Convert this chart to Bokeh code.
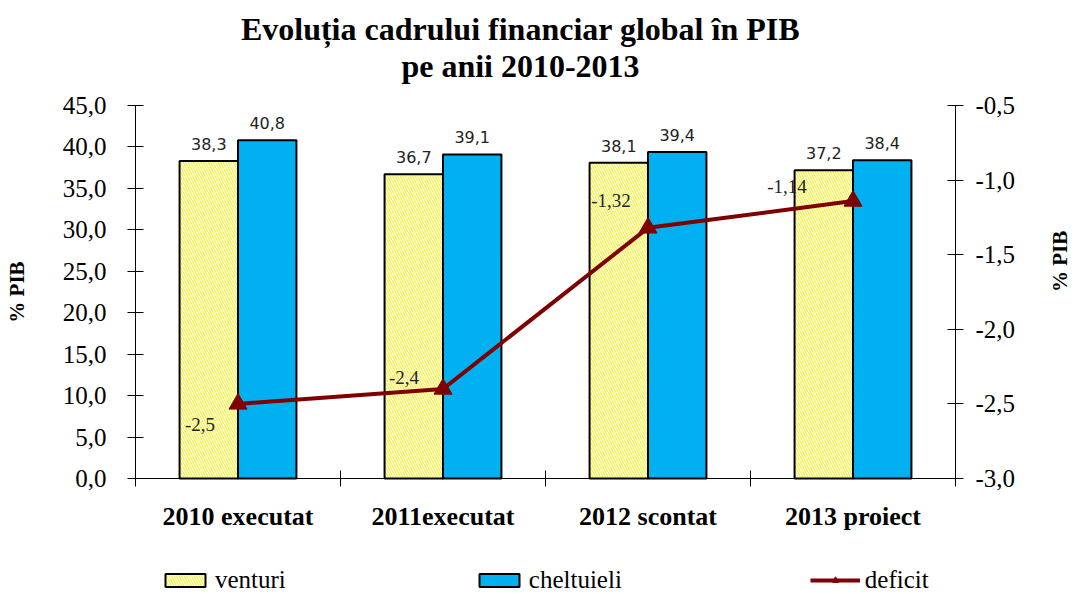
import math
from bokeh.plotting import figure
from bokeh.models import (Range1d, LinearAxis, FixedTicker, CustomJSTickFormatter,
                          Label, Legend, LegendItem, ColumnDataSource)
from bokeh.core.properties import value
from bokeh.embed import file_html
from bokeh.resources import INLINE

# ---------------- data ----------------
categories = ["2010 executat", "2011executat", "2012 scontat", "2013 proiect"]
venituri = [38.3, 36.7, 38.1, 37.2]
cheltuieli = [40.8, 39.1, 39.4, 38.4]
deficit = [-2.5, -2.4, -1.32, -1.14]
left_ticks = [0, 5, 10, 15, 20, 25, 30, 35, 40, 45]
right_ticks = [-3.0, -2.5, -2.0, -1.5, -1.0, -0.5]
title_lines = ["Evoluția cadrului financiar global în PIB", "pe anii 2010-2013"]

# ---------------- style / layout (pixels) ----------------
SERIF = "Liberation Serif"
SANS = "DejaVu Sans"
BLUE = "#00B0F0"
DARKRED = "#7F0000"
bar_w = 0.285
def_label_dx = [-38, -39, -37, -66]
def_label_dy = [21, -11, -27, -14]
W, H = 1075, 594
AX_LEFT, AX_RIGHT = 135, 955     # value axes
AX_TOP, AX_BOTTOM = 105, 478     # top / bottom of value axes
TITLE_X = 520
TITLE_BASE = [28, 65]

def fmt(v, d):
    return f"{v:.{d}f}".replace(".", ",")

n = len(categories)
centers = [i + 0.5 for i in range(n)]
x_ven = [c - bar_w / 2 for c in centers]
x_che = [c + bar_w / 2 for c in centers]

src = ColumnDataSource(dict(
    x_ven=x_ven, x_che=x_che, xc=centers,
    ven=venituri, che=cheltuieli, dfc=deficit,
    ven_lbl=[fmt(v, 1) for v in venituri],
    che_lbl=[fmt(v, 1) for v in cheltuieli],
    dfc_lbl=[fmt(v, 2) if round(v, 1) != v else fmt(v, 1) for v in deficit],
    dx=def_label_dx, dy=def_label_dy,
))

# the plotting frame fills the whole canvas; axes are placed at fixed locations
def span(lo, hi, p_lo, p_hi, p_min, p_max):
    k = (hi - lo) / (p_hi - p_lo)
    return lo - (p_lo - p_min) * k, hi + (p_max - p_hi) * k

y0, y1 = left_ticks[0], left_ticks[-1]
r0, r1 = right_ticks[0], right_ticks[-1]
xs, xe = span(0, n, AX_LEFT, AX_RIGHT, 0, W)
ys, ye = span(y0, y1, H - AX_BOTTOM, H - AX_TOP, 0, H)
rs, re_ = span(r0, r1, H - AX_BOTTOM, H - AX_TOP, 0, H)

p = figure(width=W, height=H, output_backend="svg", toolbar_location=None,
           x_range=Range1d(xs, xe), y_range=Range1d(ys, ye),
           min_border_left=0, min_border_right=0,
           min_border_top=0, min_border_bottom=0)
p.extra_y_ranges = {"def": Range1d(rs, re_)}
p.outline_line_color = None
p.xgrid.visible = False
p.ygrid.visible = False
p.background_fill_color = "white"
p.border_fill_color = "white"

# category axis
p.xaxis.fixed_location = y0
p.xaxis.bounds = (0, n)
p.xaxis.ticker = FixedTicker(ticks=centers, minor_ticks=list(range(n + 1)))
p.xaxis.formatter = CustomJSTickFormatter(args=dict(labels=categories),
                                          code="return labels[Math.floor(tick)];")
p.xaxis.major_tick_in = 0
p.xaxis.major_tick_out = 0
p.xaxis.minor_tick_in = 8
p.xaxis.minor_tick_out = 8
p.xaxis.major_label_standoff = 15
p.xaxis.major_label_text_font = SERIF
p.xaxis.major_label_text_font_style = "bold"
p.xaxis.major_label_text_font_size = "26px"
p.xaxis.major_label_text_color = "black"
p.xaxis.axis_line_color = "black"
p.xaxis.minor_tick_line_color = "black"

# left value axis
p.yaxis.fixed_location = 0
p.yaxis.bounds = (y0, y1)
p.yaxis.ticker = FixedTicker(ticks=left_ticks, minor_ticks=[])
p.yaxis.formatter = CustomJSTickFormatter(code="return tick.toFixed(1).replace('.', ',');")
p.yaxis.major_tick_in = 8
p.yaxis.major_tick_out = 8
p.yaxis.major_label_standoff = 21
p.yaxis.major_label_text_font = SERIF
p.yaxis.major_label_text_font_size = "25px"
p.yaxis.major_label_text_color = "black"
p.yaxis.axis_label = "% PIB"
p.yaxis.axis_label_text_font = SERIF
p.yaxis.axis_label_text_font_style = "bold"
p.yaxis.axis_label_text_font_size = "21px"
p.yaxis.axis_label_text_color = "black"
p.yaxis.axis_label_standoff = 31
p.yaxis.axis_line_color = "black"
p.yaxis.major_tick_line_color = "black"

# right value axis (deficit)
ry = LinearAxis(y_range_name="def", bounds=(r0, r1), fixed_location=n,
                ticker=FixedTicker(ticks=right_ticks, minor_ticks=[]),
                formatter=CustomJSTickFormatter(code="return tick.toFixed(1).replace('.', ',');"),
                axis_label="% PIB")
ry.major_tick_in = 8
ry.major_tick_out = 8
ry.major_label_standoff = 12
ry.major_label_text_font = SERIF
ry.major_label_text_font_size = "25px"
ry.major_label_text_color = "black"
ry.axis_label_orientation = math.pi / 2
ry.axis_label_text_align = "center"
ry.axis_label_text_font = SERIF
ry.axis_label_text_font_style = "bold"
ry.axis_label_text_font_size = "21px"
ry.axis_label_text_color = "black"
ry.axis_label_standoff = 42
ry.axis_line_color = "black"
ry.major_tick_line_color = "black"
p.add_layout(ry, "right")

# bars
r_ven = p.vbar(x="x_ven", top="ven", bottom=y0, width=bar_w, source=src,
               fill_color="white", line_color="black", line_width=2,
               hatch_pattern="left_diagonal_line", hatch_color="#F2F200",
               hatch_scale=5, hatch_weight=1)
r_che = p.vbar(x="x_che", top="che", bottom=y0, width=bar_w, source=src,
               fill_color=BLUE, line_color="black", line_width=2)

p.text(x="x_ven", y="ven", text="ven_lbl", source=src, y_offset=-11,
       text_align="center", text_baseline="bottom",
       text_font=value(SANS), text_font_size="16px", text_color="#222222")
p.text(x="x_che", y="che", text="che_lbl", source=src, y_offset=-11,
       text_align="center", text_baseline="bottom",
       text_font=value(SANS), text_font_size="16px", text_color="#222222")

# deficit line
r_line = p.line(x="xc", y="dfc", source=src, y_range_name="def",
                line_color=DARKRED, line_width=4)
r_mark = p.scatter(x="xc", y="dfc", source=src, y_range_name="def",
                   marker="triangle", size=18, fill_color=DARKRED, line_color=DARKRED)
p.text(x="xc", y="dfc", text="dfc_lbl", source=src, y_range_name="def",
       x_offset="dx", y_offset="dy", text_align="center", text_baseline="middle",
       text_font=value(SERIF), text_font_size="19px", text_color="#222222")

# title (two lines)
for line, base in zip(title_lines, TITLE_BASE):
    p.add_layout(Label(x=TITLE_X, y=H - base, x_units="screen", y_units="screen",
                       text=line, text_align="center", text_baseline="alphabetic",
                       text_font=SERIF, text_font_style="bold",
                       text_font_size="32px", text_color="black"))

# legend at the bottom
legend = Legend(items=[LegendItem(label="venturi", renderers=[r_ven]),
                       LegendItem(label="cheltuieli", renderers=[r_che]),
                       LegendItem(label="deficit", renderers=[r_line, r_mark])],
                location=(160, 0), orientation="horizontal", spacing=188,
                glyph_width=50, glyph_height=16, label_standoff=5,
                padding=0, margin=0, border_line_color=None,
                background_fill_alpha=0,
                label_text_font=SERIF, label_text_font_size="25px",
                label_text_color="black")
p.add_layout(legend, "center")

open("out.html", "w").write(file_html(p, INLINE))
